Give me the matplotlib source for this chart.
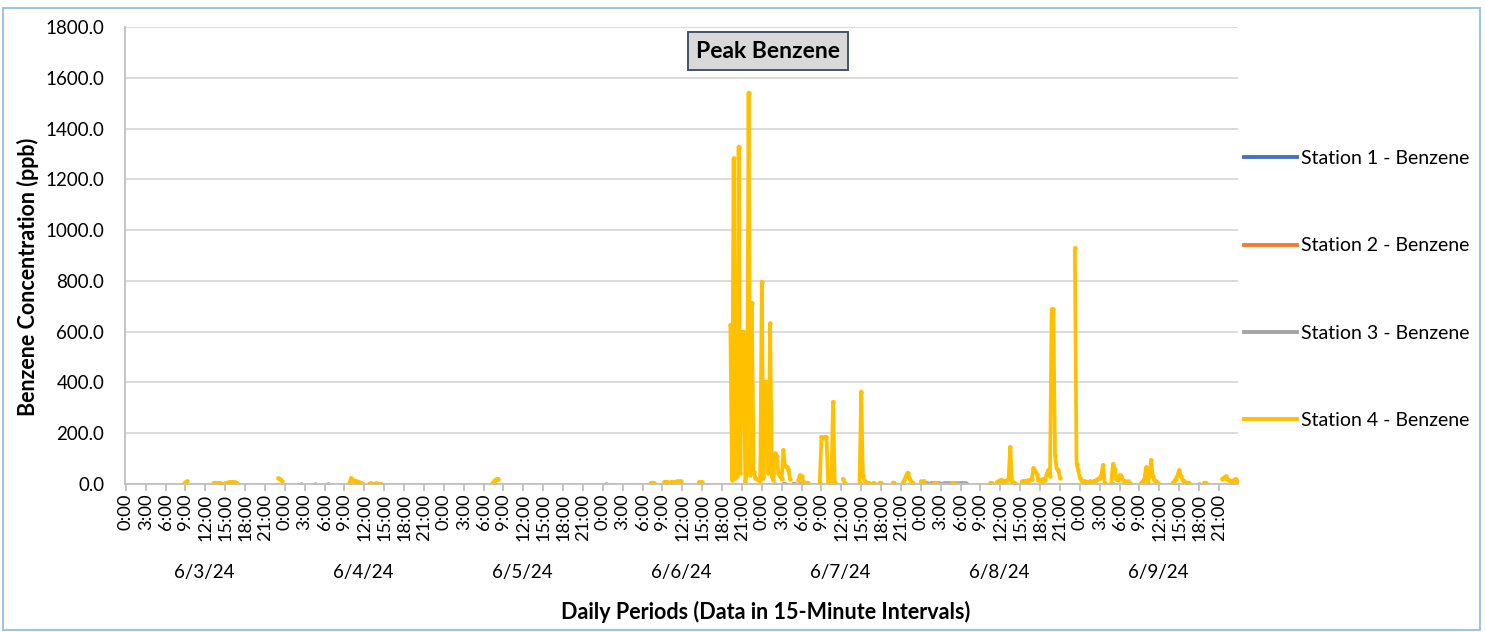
import numpy as np
import matplotlib
matplotlib.use("Agg")
import matplotlib.pyplot as plt
from matplotlib.lines import Line2D
from matplotlib.patches import Rectangle

plt.rcParams['font.family'] = ['Lato', 'DejaVu Sans']

# 7 days of 15-minute readings (96 per day)
dates = ['6/3/24', '6/4/24', '6/5/24', '6/6/24', '6/7/24', '6/8/24', '6/9/24']
hours = ['0:00', '3:00', '6:00', '9:00', '12:00', '15:00', '18:00', '21:00']
n_points = 96 * len(dates)

# readings given as (first interval index, consecutive values); gaps are missing data
station1 = []
station2 = []
station3 = [
    (106, [1]), (114, [1]), (122, [1]), (290, [1]),
    (392, [1]), (397, [1, 1]), (403, [1, 1]), (407, [1, 1, 1, 1]),
    (480, [2, 2, 3, 2, 2, 1, 2, 2, 2, 3, 2, 2, 1, 1, 2, 2, 2, 2, 3, 2, 2, 2, 1, 2, 2, 2, 2, 2]),
    (596, [1]), (648, [1]), (668, [1]),
]
station4 = [
    (35, [1, 6, 11]),
    (53, [5, 5, 4, 3, 3, 1, 0, 3, 5, 6, 7, 7, 6, 6, 5]),
    (92, [23, 18, 13]),
    (135, [2, 24, 15, 12, 13, 8, 6, 3, 1]),
    (147, [1, 2, 1, 1, 2, 1, 1, 1]),
    (221, [0, 8, 15, 20, 20]),
    (317, [5, 5, 5]),
    (325, [8, 9, 8]),
    (329, [8, 8, 7, 9, 10, 10, 10]),
    (346, [7, 7, 7]),
    (365, [626, 16, 1283, 23, 30, 1329, 43, 600, 600, 9, 40, 1542, 35, 713, 49, 25, 20, 15, 10,
           797, 24, 403, 403, 43, 633, 30, 15, 121, 110, 43, 30, 20, 134, 70, 68, 60, 20]),
    (406, [15, 35, 30, 10, 5, 3, 5]),
    (419, [5, 186, 180, 186, 186, 5, 2, 3, 324, 3]),
    (433, [20, 5]),
    (443, [3, 364, 30, 12, 5, 3, 3]),
    (451, [3, 3]),
    (455, [5, 5]),
    (463, [5, 5]),
    (469, [5, 15, 30, 45, 25, 12, 5]),
    (480, [10, 8, 12]),
    (488, [5, 5]),
    (499, [5, 5]),
    (522, [5, 2]),
    (526, [8, 12, 15, 15, 12, 10, 15, 20, 147, 10, 5, 3]),
    (541, [10, 12, 12, 10, 15, 15, 20, 63, 50, 40, 15, 15, 12, 20, 15, 40, 55, 30,
           689, 689, 114, 60, 55, 25]),
    (573, [930, 80, 55, 25, 15, 12, 10, 5, 8, 10, 8, 10, 12, 15, 20, 25, 35, 75, 5]),
    (595, [5, 79, 60, 20, 15, 35, 30, 15, 10, 8, 10, 5]),
    (613, [5, 10, 20, 66, 5, 30, 95, 30, 15, 10, 5]),
    (632, [5, 10, 20, 35, 55, 30, 15, 10]),
    (641, [5, 5]),
    (651, [5, 5]),
    (662, [20, 25, 30, 20, 15, 10, 12, 15, 20, 10]),
]

labels = ['Station 1 - Benzene', 'Station 2 - Benzene', 'Station 3 - Benzene', 'Station 4 - Benzene']
colors = ['#4472C4', '#ED7D31', '#A5A5A5', '#FFC000']


def to_series(segments):
    y = np.full(n_points, np.nan)
    for start, vals in segments:
        y[start:start + len(vals)] = vals
    return y


W, H = 1486, 632
fig = plt.figure(figsize=(W / 100, H / 100), dpi=100)
ax = fig.add_axes([125 / W, 1 - 484 / H, (1238 - 125) / W, (484 - 27) / H])

x = np.arange(n_points)
for segs, c in zip([station1, station2, station3, station4], colors):
    ax.plot(x, to_series(segs), color=c, lw=2.7, solid_capstyle='round',
            solid_joinstyle='round', marker='o', ms=3.2, mew=0)

ax.set_xlim(-0.5, n_points - 0.5)
ax.set_ylim(0, 1800)
ax.set_yticks(np.arange(0, 1801, 200))
ax.set_yticklabels([f'{v:.1f}' for v in range(0, 1801, 200)], fontsize=13.5)
ax.tick_params(axis='y', length=0, pad=15)
ax.grid(axis='y', color='#D9D9D9', lw=1.3)
ax.set_axisbelow(True)

ax.set_xticks(np.arange(0, n_points, 12))
ax.set_xticklabels(hours * len(dates), rotation=90, fontsize=13.2)
ax.tick_params(axis='x', length=5, color='#BFBFBF', width=1.3, pad=2)

for s in ['top', 'right']:
    ax.spines[s].set_visible(False)
for s in ['left', 'bottom']:
    ax.spines[s].set_color('#BFBFBF')
    ax.spines[s].set_linewidth(1.3)

for d, lab in enumerate(dates):
    ax.text(96 * d + 47.5, -0.193, lab, transform=ax.get_xaxis_transform(),
            ha='center', va='center', fontsize=13.5)

fig.text(766 / W, 1 - 612 / H, 'Daily Periods (Data in 15-Minute Intervals)',
         ha='center', va='center', fontsize=15.5, fontweight='bold')
fig.text(28 / W, 1 - 277 / H, 'Benzene Concentration (ppb)', rotation=90,
         ha='center', va='center', fontsize=15.5, fontweight='bold')

fig.text(768 / W, 1 - 51 / H, 'Peak Benzene', ha='center', va='center',
         fontsize=16.5, fontweight='bold',
         bbox=dict(boxstyle='square,pad=0.36', facecolor='#D9D9D9',
                   edgecolor='#44546A', lw=1.4))

handles = [Line2D([], [], color=c, lw=2.8) for c in colors]
fig.legend(handles, labels, loc='upper left', bbox_to_anchor=(1244 / W, 1 - 150 / H),
           frameon=False, fontsize=14, handlelength=2.75, handletextpad=0.2,
           labelspacing=3.62, borderpad=0, borderaxespad=0)

fig.patches.append(Rectangle((3 / W, 2 / H), (1480 - 3) / W, (627 - 5) / H,
                             transform=fig.transFigure, fill=False,
                             edgecolor='#9DC3E6', lw=1.5))

fig.savefig('out.png', dpi=100)
